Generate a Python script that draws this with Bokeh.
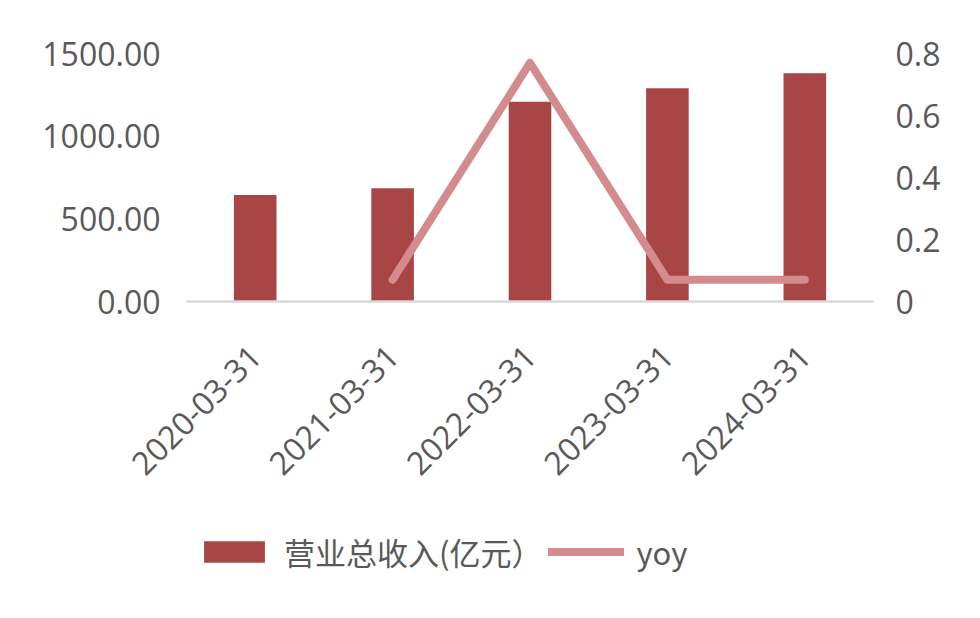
import math
from bokeh.plotting import figure
from bokeh.layouts import column
from bokeh.models import Range1d, LinearAxis, FixedTicker, Legend, LegendItem, FactorRange
from bokeh.embed import file_html
from bokeh.resources import INLINE

# ---- data ----
categories = ["2020-03-31", "2021-03-31", "2022-03-31", "2023-03-31", "2024-03-31"]
revenue = [644, 685, 1208, 1290, 1380]
yoy_dates = ["2021-03-31", "2022-03-31", "2023-03-31", "2024-03-31"]
yoy = [0.07, 0.77, 0.07, 0.07]
left_ticks = [0, 500, 1000, 1500]
left_tick_labels = ["0.00", "500.00", "1000.00", "1500.00"]
right_ticks = [0, 0.2, 0.4, 0.6, 0.8]
right_tick_labels = ["0", "0.2", "0.4", "0.6", "0.8"]
bar_label = "营业总收入(亿元）"
line_label = "yoy"

TEXT = "#595959"
BAR = "#a84545"
LINE = "#d48b8d"

p = figure(x_range=FactorRange(*categories), y_range=Range1d(0, 1500),
           frame_width=687, frame_height=248, output_backend="svg", toolbar_location=None,
           min_border_left=186, min_border_right=103, min_border_top=53,
           min_border_bottom=220)
p.outline_line_color = None
p.xgrid.grid_line_color = None
p.ygrid.grid_line_color = None
p.background_fill_color = "white"
p.border_fill_color = "white"

ya = p.yaxis[0]
ya.ticker = FixedTicker(ticks=left_ticks)
ya.major_label_overrides = dict(zip(left_ticks, left_tick_labels))
ya.axis_line_color = None
ya.major_tick_line_color = None
ya.minor_tick_line_color = None
ya.major_label_text_font = "Open Sans"
ya.major_label_text_font_size = "32px"
ya.major_label_text_color = TEXT
ya.major_label_standoff = 20

p.extra_y_ranges = {"yoy": Range1d(0, 0.8)}
ra = LinearAxis(y_range_name="yoy", ticker=FixedTicker(ticks=right_ticks),
                major_label_overrides=dict(zip(right_ticks, right_tick_labels)))
ra.axis_line_color = None
ra.major_tick_line_color = None
ra.minor_tick_line_color = None
ra.major_label_text_font = "Open Sans"
ra.major_label_text_font_size = "32px"
ra.major_label_text_color = TEXT
ra.major_label_standoff = 16
p.add_layout(ra, "right")

xa = p.xaxis[0]
xa.axis_line_color = "#d9d9d9"
xa.axis_line_width = 2.5
xa.major_tick_line_color = None
xa.minor_tick_line_color = None
xa.major_label_orientation = math.pi / 4
xa.major_label_text_font = "Open Sans"
xa.major_label_text_font_size = "32px"
xa.major_label_text_color = TEXT
xa.major_label_standoff = 43

bars = p.vbar(x=categories, top=revenue, width=0.31, fill_color=BAR, line_color=None)
line = p.line(x=yoy_dates, y=yoy, y_range_name="yoy", line_width=8, line_color=LINE,
              line_cap="round", line_join="round")

# legend strip: its own canvas; the series are bound there to ranges that do not
# contain them, so only the legend swatches show
lg = figure(width=976, height=80, output_backend="svg", toolbar_location=None,
            x_axis_type=None, y_axis_type=None, min_border=0,
            x_range=FactorRange(factors=["legend"]), y_range=Range1d(-20000, -10000))
lg.outline_line_color = None
lg.xgrid.grid_line_color = None
lg.ygrid.grid_line_color = None
lg_bar = lg.vbar(x=categories, top=revenue, width=0.31, fill_color=BAR, line_color=None)
lg_line = lg.line(x=yoy_dates, y=yoy, line_width=8, line_color=LINE, line_cap="round")

legend = Legend(items=[LegendItem(label=bar_label, renderers=[lg_bar]),
                       LegendItem(label=line_label, renderers=[lg_line])],
                orientation="horizontal", location=(10, 27),
                glyph_width=76, glyph_height=27, label_height=24,
                label_text_font="Noto Sans CJK SC", label_text_font_size="31px",
                label_text_color=TEXT, border_line_color=None,
                background_fill_alpha=0, padding=0, margin=0, spacing=6,
                label_standoff=12)
lg.add_layout(legend)

layout = column(p, lg, spacing=0)
open("out.html", "w").write(file_html(layout, INLINE))
